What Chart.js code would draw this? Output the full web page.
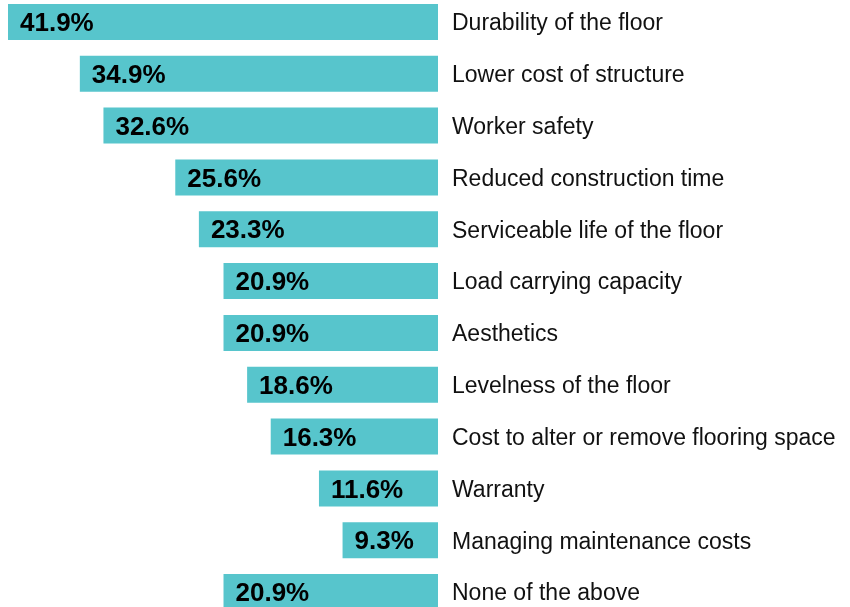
<!DOCTYPE html>
<html>
<head>
<meta charset="utf-8">
<script src="https://cdn.jsdelivr.net/npm/chart.js@4"></script>
<style>
  html, body { margin: 0; padding: 0; background: #fff; overflow: hidden; }
  #wrap { position: absolute; left: 0; top: -4px; width: 850px; height: 622px; }
</style>
</head>
<body>
<div id="wrap"><canvas id="chart"></canvas></div>
<script>
const categories = [
  'Durability of the floor',
  'Lower cost of structure',
  'Worker safety',
  'Reduced construction time',
  'Serviceable life of the floor',
  'Load carrying capacity',
  'Aesthetics',
  'Levelness of the floor',
  'Cost to alter or remove flooring space',
  'Warranty',
  'Managing maintenance costs',
  'None of the above'
]
const percentages = [41.9, 34.9, 32.6, 25.6, 23.3, 20.9, 20.9, 18.6, 16.3, 11.6, 9.3, 20.9]

// Draws the value inside each bar and the category name to the right
const labelPlugin = {
  id: 'barLabels',
  afterDatasetsDraw(chart) {
    const ctx = chart.ctx
    const meta = chart.getDatasetMeta(0)
    ctx.save()
    ctx.textBaseline = 'middle'
    meta.data.forEach((bar, i) => {
      const left = Math.min(bar.x, bar.base)
      const right = Math.max(bar.x, bar.base)
      ctx.fillStyle = '#000'
      ctx.font = 'bold 26px "Liberation Sans", Arial, sans-serif'
      ctx.textAlign = 'left'
      ctx.fillText(percentages[i].toFixed(1) + '%', left + 12, bar.y + 2)
      ctx.fillStyle = '#111'
      ctx.font = '23px "Liberation Sans", Arial, sans-serif'
      ctx.fillText(categories[i], right + 14, bar.y + 2)
    })
    ctx.restore()
  }
}

const ctx = document.getElementById('chart').getContext('2d')
new Chart(ctx, {
  type: 'bar',
  data: {
    labels: categories,
    datasets: [{
      data: percentages,
      backgroundColor: 'rgb(87, 197, 204)',
      borderWidth: 0,
      barPercentage: 0.695,
      categoryPercentage: 1
    }]
  },
  options: {
    indexAxis: 'y',
    responsive: true,
    maintainAspectRatio: false,
    animation: false,
    layout: { padding: { left: 8, right: 412, top: 0, bottom: 0 } },
    plugins: {
      legend: { display: false },
      tooltip: { enabled: false }
    },
    scales: {
      x: { display: false, reverse: true, min: 0, max: 41.9 },
      y: { display: false }
    }
  },
  plugins: [labelPlugin]
})
</script>
</body>
</html>
